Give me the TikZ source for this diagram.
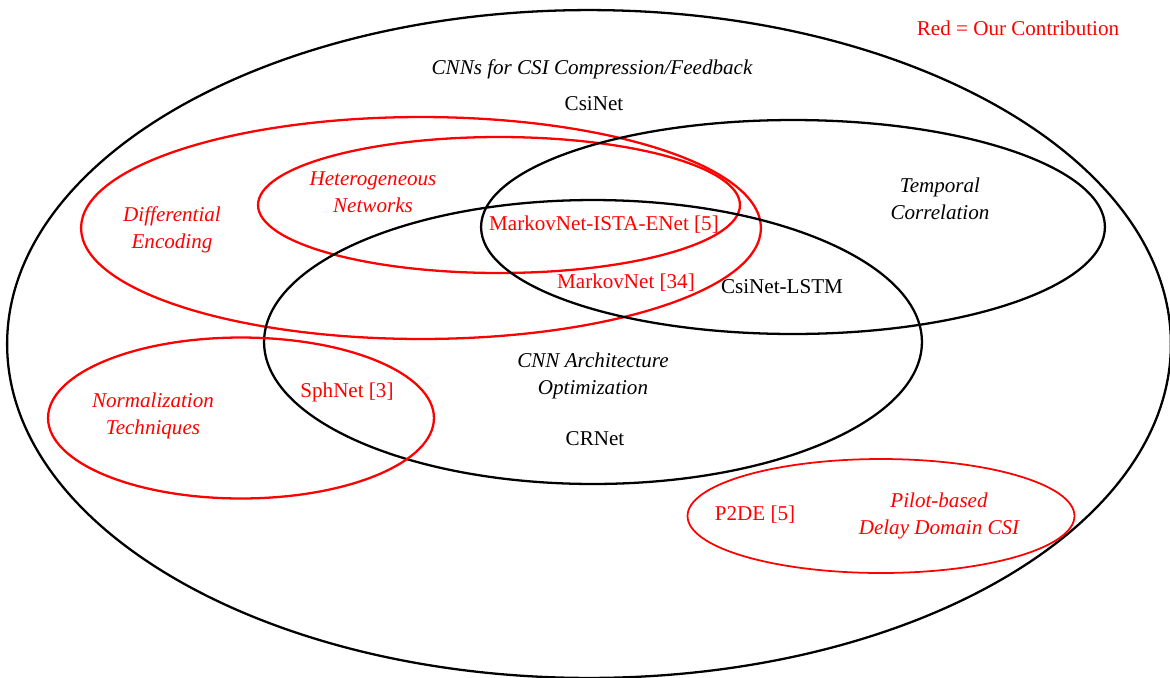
\documentclass[tikz,border=0pt]{standalone}
\usepackage{fontspec}
\setmainfont{Liberation Serif}
\usetikzlibrary{shapes.geometric}

\begin{document}
\begin{tikzpicture}[x=0.02cm,y=-0.02cm]
	\tikzset{blackset/.style={draw=black, line width=1.3pt, shape=ellipse, inner sep=0pt},
		redset/.style={draw=red, line width=1.3pt, shape=ellipse, inner sep=0pt},
		every node/.append style={font=\fontsize{12}{15.2}\selectfont},
		setname/.style={font=\fontsize{12}{15.2}\selectfont\itshape, align=center},
		ours/.style={text=red}}
	\useasboundingbox (0,0) rectangle (1170,677);
	% sets
	\node[blackset, minimum width=23.28cm, minimum height=13.36cm] (csi) at (589,344) {};
	\node[redset, minimum width=13.6cm, minimum height=4.44cm] (diff) at (421,228) {};
	\node[redset, minimum width=9.64cm, minimum height=2.72cm] (hetero) at (499,205) {};
	\node[blackset, minimum width=12.48cm, minimum height=4.28cm] (temp) at (793,227) {};
	\node[blackset, minimum width=13.16cm, minimum height=5.68cm] (arch) at (593,342) {};
	\node[redset, minimum width=7.72cm, minimum height=3.22cm] (norm) at (241,418) {};
	\node[redset, line width=1pt, minimum width=7.74cm, minimum height=2.28cm] (pilot) at (881,516) {};
	% set names
	\node[ours] (legend) at (1018,28) {Red = Our Contribution};
	\node[setname] (csiname) at (592,69) {CNNs for CSI Compression/Feedback};
	\node[setname, ours] (diffname) at (172,230) {Differential\\Encoding};
	\node[setname, ours] (heteroname) at (373,192) {Heterogeneous\\Networks};
	\node[setname] (tempname) at (940,199) {Temporal\\Correlation};
	\node[setname] (archname) at (593,376) {CNN Architecture\\Optimization};
	\node[setname, ours] (normname) at (153,416) {Normalization\\Techniques};
	\node[setname, ours] (pilotname) at (939,516) {Pilot-based\\Delay Domain CSI};
	% works
	\node (csinet) at (594,104) {CsiNet};
	\node[ours] (ista) at (604,225) {MarkovNet-ISTA-ENet [5]};
	\node[ours] (markov) at (626,283) {MarkovNet [34]};
	\node (lstm) at (782,287) {CsiNet-LSTM};
	\node[ours] (sph) at (347,392) {SphNet [3]};
	\node (crnet) at (595,439) {CRNet};
	\node[ours] (p2de) at (755,515) {P2DE [5]};
\end{tikzpicture}
\end{document}
